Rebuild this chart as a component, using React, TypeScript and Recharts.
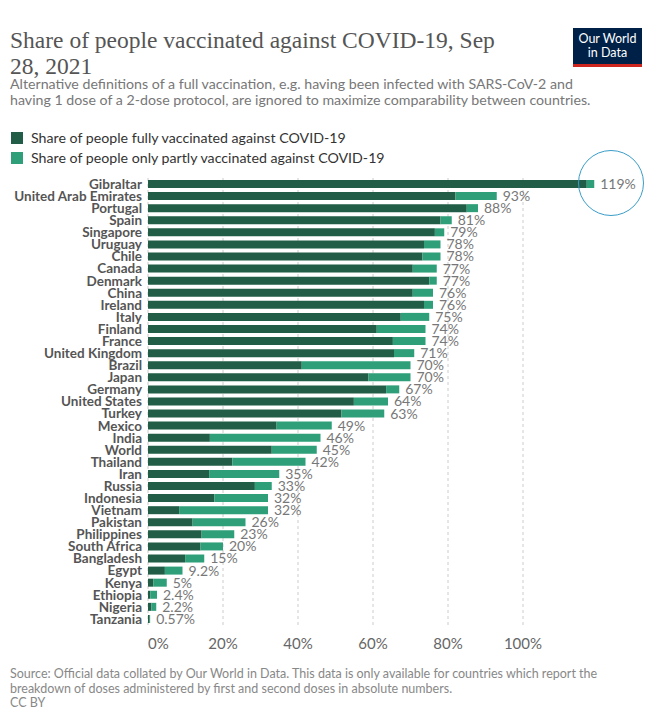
import { Bar, BarChart, CartesianGrid, LabelList, XAxis, YAxis } from 'recharts'

const countries = [
  'Gibraltar', 'United Arab Emirates', 'Portugal', 'Spain', 'Singapore', 'Uruguay', 'Chile',
  'Canada', 'Denmark', 'China', 'Ireland', 'Italy', 'Finland', 'France', 'United Kingdom',
  'Brazil', 'Japan', 'Germany', 'United States', 'Turkey', 'Mexico', 'India', 'World',
  'Thailand', 'Iran', 'Russia', 'Indonesia', 'Vietnam', 'Pakistan', 'Philippines',
  'South Africa', 'Bangladesh', 'Egypt', 'Kenya', 'Ethiopia', 'Nigeria', 'Tanzania',
]

const fullyVaccinated = [
  117, 82, 85, 78, 76.5, 73.6, 73.2, 70.6, 75, 70.6, 73.6, 67.4, 61, 65.3, 65.6, 41, 58.8,
  63.5, 54.9, 51.6, 34.3, 16.5, 33, 22.5, 16.3, 28.5, 17.7, 8.3, 11.9, 14.3, 14, 9.9, 4.5,
  1.4, 0.6, 0.9, 0.45,
]

const partlyVaccinated = [
  2, 11, 3, 3, 2.5, 4.4, 4.8, 6.4, 2, 5.4, 2.4, 7.6, 13, 8.7, 5.4, 29, 11.2, 3.5, 9.1, 11.4,
  14.7, 29.5, 12, 19.5, 18.7, 4.5, 14.3, 23.7, 14.1, 8.7, 6, 5.1, 4.7, 3.6, 1.8, 1.3, 0.12,
]

const totalLabels = [
  '119%', '93%', '88%', '81%', '79%', '78%', '78%', '77%', '77%', '76%', '76%', '75%', '74%',
  '74%', '71%', '70%', '70%', '67%', '64%', '63%', '49%', '46%', '45%', '42%', '35%', '33%',
  '32%', '32%', '26%', '23%', '20%', '15%', '9.2%', '5%', '2.4%', '2.2%', '0.57%',
]

const xTicks = [0, 20, 40, 60, 80, 100]
const xMax = 120

const data = countries.map((name, i) => ({
  name,
  fully: fullyVaccinated[i],
  partly: partlyVaccinated[i],
  total: totalLabels[i],
}))

const DARK = '#225d47'
const LIGHT = '#2e9f78'
const font = 'Lato, "Open Sans", sans-serif'

function XTick({ x, y, payload }: any) {
  return (
    <text x={x} y={y} dy="0.71em" textAnchor={payload.value === 0 ? 'start' : 'middle'} fill="#666" fontSize={15} fontFamily={font}>
      {payload.value}%
    </text>
  )
}

function YTick({ x, y, payload }: any) {
  return (
    <text x={x} y={y} dy="0.36em" textAnchor="end" fill="#555" fontSize={13.5} fontWeight={700} fontFamily={font}>
      {payload.value}
    </text>
  )
}

// grid lines only at the tick values, not at the end of the domain
const gridX = ({ xAxis, offset }: any) => {
  if (xAxis && typeof xAxis.scale === 'function') return xTicks.map((t) => xAxis.scale(t))
  return xTicks.map((t) => offset.left + (t / xMax) * offset.width)
}

export default function App() {
  return (
    <div style={{ position: 'absolute', left: 0, top: 0, width: 660, height: 724, background: '#fff', fontFamily: font, overflow: 'hidden' }}>
      <div style={{ position: 'absolute', left: 10, top: 27, fontFamily: '"Liberation Serif", "DejaVu Serif", serif', fontSize: 23.5, lineHeight: '26px', color: '#555' }}>
        Share of people vaccinated against COVID-19, Sep
        <br />
        28, 2021
      </div>
      <div style={{ position: 'absolute', left: 573, top: 28, width: 69, height: 39, background: '#002147', borderBottom: '3px solid #ce261e', boxSizing: 'border-box', color: '#fff', fontSize: 12.5, lineHeight: '14px', textAlign: 'center', paddingTop: 4 }}>
        Our World
        <br />
        in Data
      </div>
      <div style={{ position: 'absolute', left: 10, top: 76, fontSize: 14.2, lineHeight: '16px', color: '#777', width: 640, whiteSpace: 'nowrap' }}>
        Alternative definitions of a full vaccination, e.g. having been infected with SARS-CoV-2 and
        <br />
        having 1 dose of a 2-dose protocol, are ignored to maximize comparability between countries.
      </div>
      <div style={{ position: 'absolute', left: 11, top: 128, fontSize: 14.2, lineHeight: '20px', color: '#333' }}>
        <div style={{ display: 'flex', alignItems: 'center' }}>
          <span style={{ display: 'inline-block', width: 12, height: 12, background: DARK, marginRight: 8 }} />
          Share of people fully vaccinated against COVID-19
        </div>
        <div style={{ display: 'flex', alignItems: 'center' }}>
          <span style={{ display: 'inline-block', width: 12, height: 12, background: LIGHT, marginRight: 8 }} />
          Share of people only partly vaccinated against COVID-19
        </div>
      </div>
      <div style={{ position: 'absolute', left: 0, top: 0 }}>
        <BarChart
          width={660}
          height={660}
          data={data}
          layout="vertical"
          margin={{ top: 178, right: 62, bottom: 5, left: 8 }}
          barCategoryGap={2}
        >
          <CartesianGrid horizontal={false} stroke="#ccc" strokeDasharray="3 3" verticalCoordinatesGenerator={gridX} />
          <XAxis
            type="number"
            domain={[0, xMax]}
            ticks={xTicks}
            axisLine={false}
            tickLine={false}
            tickMargin={7}
            height={30}
            tick={<XTick />}
          />
          <YAxis
            type="category"
            dataKey="name"
            width={140}
            axisLine={false}
            tickLine={false}
            tickMargin={0}
            interval={0}
            tick={<YTick />}
          />
          <Bar dataKey="fully" stackId="a" fill={DARK} isAnimationActive={false} />
          <Bar dataKey="partly" stackId="a" fill={LIGHT} isAnimationActive={false}>
            <LabelList dataKey="total" position="right" offset={6} fill="#777" fontSize={14} fontFamily={font} />
          </Bar>
        </BarChart>
      </div>
      <div style={{ position: 'absolute', left: 578, top: 150, width: 64, height: 64, borderRadius: '50%', border: '1.5px solid #3a9dc8' }} />
      <div style={{ position: 'absolute', left: 10, top: 667, fontSize: 12.5, lineHeight: '14.5px', color: '#888', whiteSpace: 'nowrap' }}>
        Source: Official data collated by Our World in Data. This data is only available for countries which report the
        <br />
        breakdown of doses administered by first and second doses in absolute numbers.
        <br />
        CC BY
      </div>
    </div>
  )
}
